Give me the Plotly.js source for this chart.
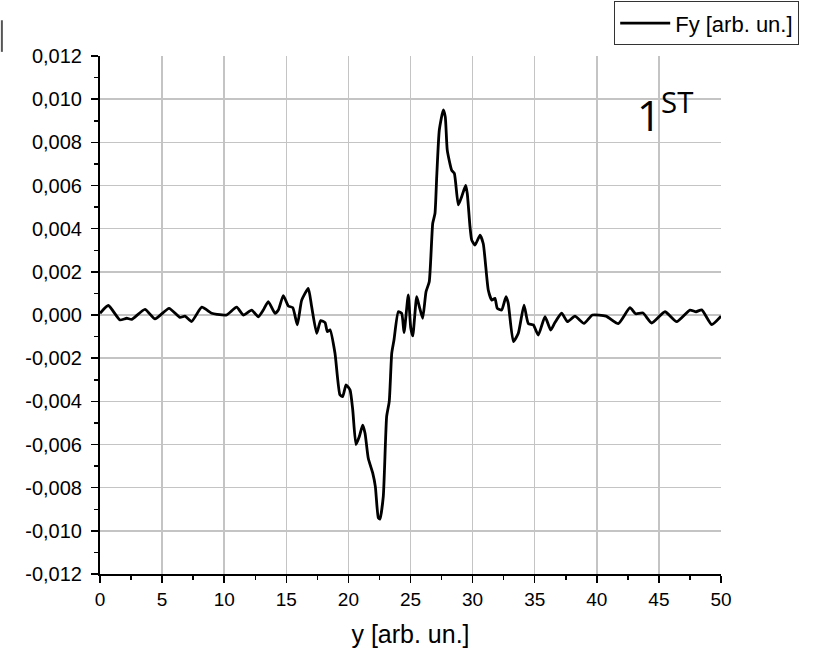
<!DOCTYPE html>
<html>
<head>
<meta charset="utf-8">
<script src="https://cdn.plot.ly/plotly-3.0.1.min.js"></script>
<style>html,body{margin:0;padding:0;background:#fff;}#chart{width:830px;height:658px;}</style>
</head>
<body>
<div id="chart"></div>
<script>
const seriesName = 'Fy [arb. un.]';
const xTitle = 'y [arb. un.]';
const yTickVals = [-0.012, -0.010, -0.008, -0.006, -0.004, -0.002, 0, 0.002, 0.004, 0.006, 0.008, 0.010, 0.012];
const yTickText = ['-0,012', '-0,010', '-0,008', '-0,006', '-0,004', '-0,002', '0,000', '0,002', '0,004', '0,006', '0,008', '0,010', '0,012'];
const yPos = [0, 0.67, 1.61, 2.15, 2.55, 3.62, 4.43, 5.56, 6.44, 6.84, 7.38, 8.19, 8.99, 9.42, 10.2, 11.0, 11.54, 12.21, 12.75, 13.15, 13.55, 14.09, 14.36, 14.76, 15.16, 15.52, 15.89, 16.24, 16.77, 17.04, 17.45, 17.77, 18.12, 18.3, 18.52, 18.92, 19.32, 19.54, 19.81, 20.13, 20.35, 20.61, 20.88, 21.15, 21.34, 21.6, 21.96, 22.17, 22.41, 22.54, 22.81, 23.08, 23.29, 23.49, 23.67, 24.02, 24.29, 24.48, 24.82, 25.02, 25.18, 25.5, 25.71, 25.98, 26.25, 26.51, 26.79, 26.97, 27.11, 27.32, 27.64, 27.8, 27.96, 28.32, 28.53, 28.85, 29.12, 29.44, 29.57, 29.79, 29.93, 30.19, 30.6, 30.86, 31.26, 31.54, 31.8, 31.99, 32.34, 32.69, 32.87, 33.28, 33.68, 34.14, 34.48, 34.89, 35.29, 35.83, 36.29, 36.63, 37.17, 37.64, 38.24, 38.97, 39.65, 40.74, 41.73, 42.67, 43.12, 43.72, 44.42, 45.49, 46.43, 47.5, 47.99, 48.45, 49.25, 50];
const fyValues = [0.00008, 0.00044, -0.00023, -0.00015, -0.0002, 0.00026, -0.00018, 0.00031, -0.00011, -0.00005, -0.0003, 0.00036, 0.00008, 0.00003, 0.0, 0.00036, 0.0, 0.00023, -0.00008, 0.00023, 0.00062, 0.00008, 0.00023, 0.0009, 0.00042, 0.00034, -0.00046, 0.00069, 0.00123, 0.00039, -0.00085, -0.00026, -0.00035, -0.00077, -0.00069, -0.00177, -0.0037, -0.00378, -0.00324, -0.00347, -0.0044, -0.006, -0.00563, -0.0051, -0.00548, -0.00664, -0.00733, -0.00795, -0.0094, -0.00946, -0.0084, -0.0047, -0.004, -0.00177, -0.00116, 0.00015, 0.00008, -0.00082, 0.00093, -0.0006, -0.00097, 0.00085, 0.00039, -0.00015, 0.00108, 0.00154, 0.00425, 0.0047, 0.0064, 0.00857, 0.0095, 0.00918, 0.00764, 0.0067, 0.00656, 0.0051, 0.00548, 0.006, 0.00563, 0.0041, 0.00347, 0.00324, 0.0037, 0.0033, 0.00116, 0.00069, 0.00077, 0.00031, 0.00023, 0.00085, 0.00054, -0.00123, -0.00085, 0.00046, -0.00039, -0.00046, -0.00093, -0.00008, -0.0007, -0.00035, 0.00008, -0.00031, -0.00005, -0.00039, 0.0, -0.00005, -0.0004, 0.00034, 0.00006, 0.00009, -0.00037, 0.00015, -0.00031, 0.00023, 0.00015, 0.00024, -0.00044, -0.00005];

const font = 'Liberation Sans, Arial, sans-serif';
const trace = {
  x: yPos, y: fyValues, type: 'scatter', mode: 'lines', name: seriesName,
  line: {color: '#000', width: 2.8, shape: 'spline', smoothing: 0.5},
  showlegend: true
};
const layout = {
  width: 830, height: 658,
  margin: {l: 100, r: 109, t: 56, b: 84, autoexpand: false},
  paper_bgcolor: '#fff', plot_bgcolor: '#fff',
  separators: ',.',
  font: {family: font, color: '#000', size: 19},
  showlegend: true,
  legend: {xref: 'container', yref: 'container', x: 0.74, y: 0.998, xanchor: 'left', yanchor: 'top',
    bgcolor: '#fff', bordercolor: '#333', borderwidth: 1, itemwidth: 50,
    font: {family: font, size: 22, color: '#000'}},
  xaxis: {
    range: [0, 50], dtick: 5, tick0: 0, showline: true, linecolor: '#000', linewidth: 2,
    ticks: 'outside', ticklen: 7, tickwidth: 1.5, tickcolor: '#000',
    showgrid: true, gridcolor: '#c4c4c4', gridwidth: 1.5, zeroline: false,
    tickfont: {family: font, size: 19},
    minor: {ticks: 'outside', ticklen: 4, dtick: 2.5, tickcolor: '#000', tickwidth: 1.5, showgrid: false},
    title: {text: xTitle, font: {family: font, size: 25}, standoff: 17}
  },
  yaxis: {
    range: [-0.012, 0.012], tickmode: 'array', tickvals: yTickVals, ticktext: yTickText,
    showline: true, linecolor: '#000', linewidth: 2,
    ticks: 'outside', ticklen: 7, tickwidth: 1.5, tickcolor: '#000',
    showgrid: true, gridcolor: '#c4c4c4', gridwidth: 1.5, zeroline: false,
    tickfont: {family: font, size: 20}, ticklabelstandoff: 5,
    minor: {ticks: 'outside', ticklen: 4, dtick: 0.001, tickcolor: '#000', tickwidth: 1.5, showgrid: false}
  },
  annotations: [{
    xref: 'paper', yref: 'paper', x: 0.862, y: 0.953, xanchor: 'left', yanchor: 'top',
    text: '1<sup>ST</sup>', showarrow: false,
    font: {family: 'Open Sans, Noto Sans, sans-serif', size: 42, color: '#000'}
  }],
  shapes: [{type: 'line', xref: 'paper', yref: 'paper', x0: -0.158, x1: -0.158, y0: 1.069, y1: 1.008,
    line: {color: '#555', width: 2}}]
};
Plotly.newPlot('chart', [trace], layout, {displayModeBar: false, staticPlot: true});
</script>
</body>
</html>
